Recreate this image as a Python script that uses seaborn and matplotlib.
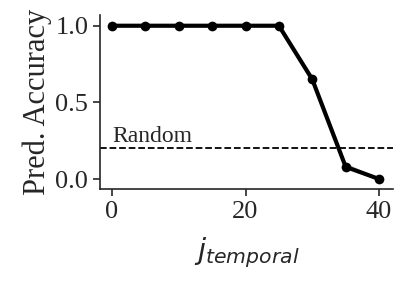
import numpy as np
import pandas as pd
import matplotlib
matplotlib.use('Agg')
import matplotlib.pyplot as plt
import seaborn as sns

# data
j_temporal = [0, 5, 10, 15, 20, 25, 30, 35, 40]
accuracy = [1.0, 1.0, 1.0, 1.0, 1.0, 1.0, 0.65, 0.08, 0.0]
ci_low = [1.0, 1.0, 1.0, 1.0, 1.0, 1.0, 0.62, 0.06, 0.0]
ci_high = [1.0, 1.0, 1.0, 1.0, 1.0, 1.0, 0.68, 0.11, 0.0]
random_level = 0.2

sns.set_theme(style='ticks')
plt.rcParams['font.family'] = ['Liberation Serif']
plt.rcParams['mathtext.fontset'] = 'dejavusans'

df = pd.DataFrame({'j': j_temporal, 'acc': accuracy})

fig = plt.figure(figsize=(4.07, 2.87), dpi=100)
ax = fig.add_axes([0.2457, 0.3415, 0.72, 0.6062])

ax.fill_between(j_temporal, ci_low, ci_high, color='0.8', alpha=0.6, lw=0)
sns.lineplot(data=df, x='j', y='acc', ax=ax, color='black', marker='o',
             linewidth=3, markersize=7, markeredgewidth=0)
ax.axhline(random_level, color='black', linestyle='--', linewidth=1.3)
ax.text(0, random_level + 0.04, 'Random', fontsize=17, va='baseline', ha='left')

ax.set_xlim(-1.8, 42.1)
ax.set_ylim(-0.065, 1.07)
ax.set_xticks([0, 20, 40])
ax.set_yticks([0.0, 0.5, 1.0])
ax.tick_params(labelsize=19, length=5, width=1.2)
for s in ['left', 'bottom']:
    ax.spines[s].set_linewidth(1.2)
sns.despine(ax=ax)

ax.set_xlabel('$j_{temporal}$', fontsize=21, labelpad=9)
ax.set_ylabel('Pred. Accuracy', fontsize=22, labelpad=2)

fig.savefig('out.png', dpi=100)
